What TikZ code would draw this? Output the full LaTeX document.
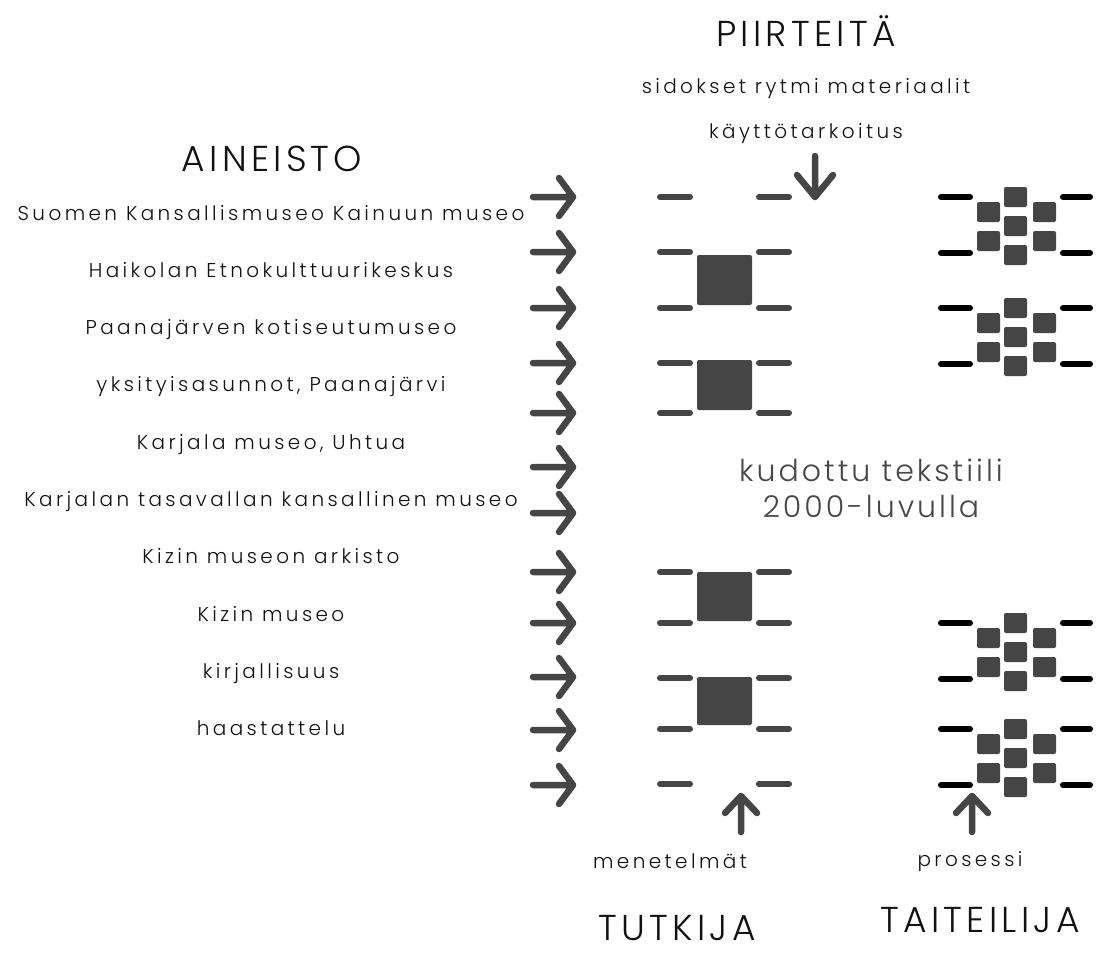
\documentclass[tikz,border=0pt]{standalone}
\usepackage{fontspec}
\setmainfont{Poppins}[UprightFont=* Light,LetterSpace=17]
\newfontfamily\headfont{Poppins}[UprightFont=* Light,LetterSpace=12]
\newfontfamily\midfont{Poppins}[UprightFont=* Light,LetterSpace=10]
\definecolor{ink}{HTML}{454545}
\definecolor{txt}{HTML}{111111}
\definecolor{soft}{HTML}{474747}
\begin{document}
\begin{tikzpicture}[x=1pt,y=-1pt,
    arr/.style={ink,line width=6.5pt,line cap=round,line join=round},
    bar/.style={ink,line width=6pt,line cap=round},
    blk/.style={fill=ink,rounded corners=2pt},
    lbl/.style={txt,anchor=base,inner sep=0pt,font=\fontsize{20}{24}\selectfont},
    head/.style={txt,anchor=base,inner sep=0pt,font=\headfont\fontsize{36}{40}\selectfont}]
  \useasboundingbox (0,0) rectangle (1099,953);

  % vasen sarake: aineisto
  \node[head] (aineisto) at (272,171) {AINEISTO};
  \foreach \txt [count=\i from 0] in {Suomen Kansallismuseo Kainuun museo,
      Haikolan Etnokulttuurikeskus, Paanajärven kotiseutumuseo,
      {yksityisasunnot, Paanajärvi}, {Karjala museo, Uhtua},
      Karjalan tasavallan kansallinen museo, Kizin museon arkisto,
      Kizin museo, kirjallisuus, haastattelu}
    \node[lbl] (src\i) at (271,{220+57.3*\i}) {\txt};
  \foreach \y in {197,252,308,363,413,467,513,572,623,677,730,785}
    \draw[arr] (533,\y) -- (573,\y) (559,{\y-19}) -- (573,\y) -- (559,{\y+19});

  % keskisarake: tutkija
  \foreach \y in {197,252,308,363,413,572,623,678,729,784}
    \draw[bar] (660,\y) -- (690,\y) (759,\y) -- (789,\y);
  \foreach \a/\b in {255/305,360/410,572/621,677/725}
    \fill[blk] (697,\a) rectangle (752,\b);

  % oikea sarake: taiteilija
  \foreach \t in {197,308,623,729} {
    \draw[bar,black] (941,\t) -- (970,\t) (1063,\t) -- (1090,\t)
      (941,{\t+56}) -- (970,{\t+56}) (1063,{\t+56}) -- (1090,{\t+56});
    \foreach \d in {0,29,58}
      \fill[blk] (1004,{\t+\d-10}) rectangle (1027,{\t+\d+10});
    \foreach \d in {15,44} {
      \fill[blk] (977,{\t+\d-10}) rectangle (1000,{\t+\d+10});
      \fill[blk] (1033,{\t+\d-10}) rectangle (1056,{\t+\d+10});
    }
  }

  % piirteet ylhaalla
  \node[head] (piirteet) at (806,46) {PIIRTEITÄ};
  \node[lbl] (sidokset) at (806,93) {sidokset rytmi materiaalit};
  \node[lbl] (kaytto) at (806,138) {käyttötarkoitus};
  \draw[arr] (815,156) -- (815,197) (797,175) -- (815,197) -- (833,175);

  % keskiteksti
  \node[soft,anchor=base,inner sep=0pt,font=\midfont\fontsize{30}{34}\selectfont] (kudottu) at (871,481) {kudottu tekstiili};
  \node[soft,anchor=base,inner sep=0pt,font=\midfont\fontsize{30}{34}\selectfont] (vuosi) at (871,517) {2000-luvulla};

  % alhaalla
  \draw[arr] (741,832) -- (741,796) (725,813) -- (741,796) -- (757,813);
  \draw[arr] (972,832) -- (972,796) (956,813) -- (972,796) -- (988,813);
  \node[lbl] (menetelmat) at (670,868) {menetelmät};
  \node[lbl] (prosessi) at (970,866) {prosessi};
  \node[head] (tutkija) at (677,940) {TUTKIJA};
  \node[head] (taiteilija) at (980,932) {TAITEILIJA};
\end{tikzpicture}
\end{document}
